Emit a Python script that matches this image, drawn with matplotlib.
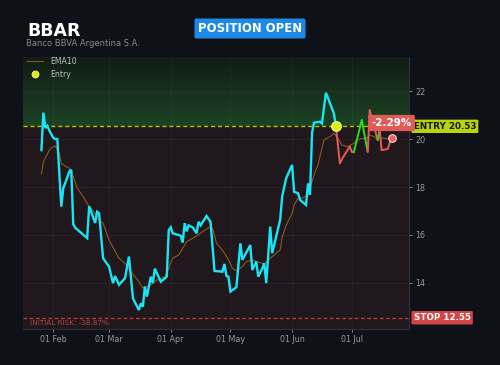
import matplotlib
matplotlib.use("Agg")
import matplotlib.pyplot as plt
import matplotlib.dates as mdates
from matplotlib.colors import to_rgb
from matplotlib.lines import Line2D
import numpy as np
import pandas as pd

# ---------------- data ----------------
ticker = "BBAR"
company = "Banco BBVA Argentina S.A."
status = "POSITION OPEN"
entry_price = 20.53
stop_price = 12.55
pnl_text = "-2.29%"
risk_text = "INITIAL RISK: -38.87%"
year = "2023-"

price_dates = ["01-26", "01-27", "01-28", "01-29", "01-30", "01-31", "02-01", "02-02", "02-03",
               "02-05", "02-06", "02-07", "02-09", "02-10", "02-11", "02-12", "02-18", "02-19",
               "02-22", "02-23", "02-24", "02-26", "03-01", "03-03", "03-04", "03-06", "03-09",
               "03-11", "03-13", "03-16", "03-17", "03-18", "03-19", "03-20", "03-22", "03-23",
               "03-24", "03-27", "03-30", "03-31", "04-01", "04-02", "04-06", "04-07", "04-08",
               "04-09", "04-10", "04-12", "04-14", "04-15", "04-16", "04-19", "04-21", "04-23",
               "04-27", "04-28", "04-29", "04-30", "05-01", "05-04", "05-06", "05-07", "05-11",
               "05-12", "05-14", "05-15", "05-17", "05-18", "05-19", "05-21", "05-22", "05-26",
               "05-27", "05-29", "06-01", "06-02", "06-04", "06-05", "06-08", "06-09", "06-10",
               "06-11", "06-12", "06-15", "06-16", "06-18", "06-22", "06-23"]
price_values = [19.54, 21.10, 20.46, 20.55, 20.35, 20.20, 20.05, 20.00, 20.00,
                17.18, 17.96, 18.17, 18.64, 18.72, 16.45, 16.30, 15.87, 17.20,
                16.50, 16.97, 16.90, 15.03, 14.68, 13.99, 14.29, 13.92, 14.20,
                15.10, 13.36, 12.87, 13.15, 13.01, 13.85, 13.43, 14.26, 14.00,
                14.60, 14.05, 14.26, 16.20, 16.32, 16.07, 15.97, 15.68, 16.49,
                16.15, 16.40, 16.32, 16.07, 16.55, 16.40, 16.79, 16.55, 14.50,
                14.47, 14.79, 14.29, 14.26, 13.64, 13.82, 15.65, 14.96, 15.58,
                14.54, 14.89, 14.26, 14.60, 14.82, 13.99, 16.35, 15.24, 16.63,
                17.60, 18.36, 18.92, 17.80, 17.74, 17.46, 17.25, 18.15, 17.67,
                20.24, 20.68, 20.72, 20.65, 21.93, 21.07, 20.53]

post_dates = ["06-23", "06-25", "06-27", "06-30", "07-01", "07-02", "07-06", "07-09",
              "07-10", "07-14", "07-15", "07-16", "07-19", "07-21"]
post_values = [20.53, 18.99, 19.30, 19.68, 19.47, 19.45, 20.79, 19.47,
               21.20, 19.96, 20.40, 19.54, 19.58, 20.06]
# state of each segment after entry (between consecutive points)
post_state = ["loss", "loss", "loss", "loss", "loss", "gain", "gain", "loss",
              "loss", "gain", "loss", "loss", "loss"]

ema_dates = ["01-26", "01-27", "01-30", "01-31", "02-02", "02-04", "02-05", "02-07", "02-09",
             "02-11", "02-13", "02-16", "02-19", "02-20", "02-22", "02-24", "02-26", "03-01",
             "03-06", "03-09", "03-12", "03-16", "03-18", "03-22", "03-25", "03-29", "03-31",
             "04-01", "04-02", "04-05", "04-07", "04-09", "04-12", "04-14", "04-17", "04-20",
             "04-22", "04-24", "04-27", "04-30", "05-02", "05-04", "05-07", "05-09", "05-12",
             "05-14", "05-17", "05-18", "05-21", "05-26", "05-27", "05-29", "06-01", "06-02",
             "06-04", "06-06", "06-09", "06-12", "06-14", "06-17", "06-20", "06-22", "06-24",
             "06-26", "06-29", "07-02", "07-04", "07-06", "07-08", "07-10", "07-14", "07-16",
             "07-20"]
ema_values = [18.54, 19.05, 19.54, 19.64, 19.71, 19.40, 18.99, 18.87, 18.78,
              18.43, 17.95, 17.60, 17.18, 17.11, 16.90, 16.63, 16.49, 15.79,
              15.03, 14.82, 14.47, 14.05, 13.78, 13.92, 14.12, 14.26, 14.60,
              14.85, 15.03, 15.17, 15.45, 15.72, 15.86, 15.96, 16.14, 16.30,
              16.28, 15.65, 15.37, 14.96, 14.61, 14.51, 14.68, 14.89, 14.96,
              14.89, 14.82, 14.79, 15.03, 15.38, 15.90, 16.40, 16.90, 17.25,
              17.53, 17.53, 17.67, 18.50, 18.92, 19.96, 20.10, 20.24, 20.03,
              19.75, 19.68, 19.82, 19.96, 20.03, 20.00, 20.17, 20.03, 20.05,
              20.00]

x_range = ["2023-01-16 18:00", "2023-07-29 18:00"]
y_range = [12.08, 23.42]
y_ticks = [14, 16, 18, 20, 22]

# ---------------- styles ----------------
BG = "#0e1117"
BELOW = "#21181e"
CYAN = "#19e6f5"
EMA_C = "#8a5a1c"
GAIN = "#22e022"
LOSS = "#e85a55"
ENTRY_C = "#c8e000"
STOP_C = "#d64545"
TXT = "#9a9a9a"

def to_dt(lst):
    return pd.to_datetime([year + s for s in lst])

pd_dates = to_dt(price_dates)
post_dt = to_dt(post_dates)
ema_dt = to_dt(ema_dates)

fig = plt.figure(figsize=(5, 3.65), dpi=100, facecolor=BG)
ax = fig.add_axes([23 / 500, 1 - 329 / 365, (409 - 23) / 500, (329 - 57) / 365])
ax.set_facecolor(BELOW)

x0, x1 = pd.to_datetime(x_range)
ax.set_xlim(x0, x1)
ax.set_ylim(*y_range)

# green gradient zone above entry
n = 64
top_c = np.array(to_rgb("#0f1a15"))
bot_c = np.array(to_rgb("#1d4223"))
t = np.linspace(0, 1, n)[:, None]
grad = (top_c * (1 - t) + bot_c * t)[:, None, :]
xnum0, xnum1 = mdates.date2num(x0), mdates.date2num(x1)
ax.imshow(grad, extent=[xnum0, xnum1, entry_price, y_range[1]], aspect="auto",
          origin="upper", zorder=0, interpolation="bilinear")
for k in np.linspace(entry_price, y_range[1], 30):
    ax.axhline(k, color="#2a5a2a", lw=0.3, alpha=0.25, zorder=0.5)
ax.set_xlim(x0, x1)
ax.set_ylim(*y_range)

# grid
ax.grid(True, color="#ffffff", alpha=0.045, lw=0.6)
ax.set_axisbelow(True)

# lines
ax.plot(ema_dt, ema_values, color=EMA_C, lw=0.8, zorder=2)
ax.plot(pd_dates, price_values, color=CYAN, lw=1.7, zorder=3, solid_joinstyle="miter")
state_color = {"gain": GAIN, "loss": LOSS}
for i, st in enumerate(post_state):
    ax.plot(post_dt[i:i + 2], post_values[i:i + 2], color=state_color[st], lw=1.4, zorder=3,
            solid_capstyle="round")

ax.axhline(entry_price, color=ENTRY_C, lw=1.0, ls=(0, (3, 2)), zorder=2.5, alpha=0.85)
ax.axhline(stop_price, color=STOP_C, lw=0.9, ls=(0, (3, 2)), zorder=2.5, alpha=0.85)

ax.plot(post_dt[0], entry_price, "o", ms=7, mfc="#dcf000", mec="#f0f0c0", mew=0.8, zorder=5)
ax.plot(post_dt[-1], post_values[-1], "o", ms=5.5, mfc="#e86060", mec="#f4d0d0", mew=0.8, zorder=5)

ax.annotate(pnl_text, xy=(post_dt[-1], post_values[-1]), xytext=(0, 10.5),
            textcoords="offset points", ha="center", va="center", fontsize=7.5,
            fontweight="bold", color="white", zorder=6,
            bbox=dict(boxstyle="round,pad=0.3,rounding_size=0.15", fc="#e05a58", ec="none"))

ax.annotate(f"ENTRY {entry_price:.2f}", xy=(1.012, entry_price), xycoords=("axes fraction", "data"),
            ha="left", va="center", fontsize=6.3, fontweight="bold", color="#15170a",
            bbox=dict(boxstyle="round,pad=0.25,rounding_size=0.12", fc="#b8d40e", ec="none"),
            annotation_clip=False)
ax.annotate(f"STOP {stop_price:.2f}", xy=(1.012, stop_price), xycoords=("axes fraction", "data"),
            ha="left", va="center", fontsize=6.3, fontweight="bold", color="white",
            bbox=dict(boxstyle="round,pad=0.25,rounding_size=0.12", fc=STOP_C, ec="none"),
            annotation_clip=False)
ax.text(0.018, stop_price - 0.22, risk_text, transform=ax.get_yaxis_transform(),
        fontsize=5.2, color="#b04545", va="center", ha="left")

# axes styling
ax.yaxis.tick_right()
ax.set_yticks(y_ticks)
ax.xaxis.set_major_locator(mdates.MonthLocator())
ax.xaxis.set_major_formatter(mdates.DateFormatter("%d %b"))
ax.tick_params(colors=TXT, labelsize=5.8, length=2.5, width=0.6, pad=2)
for s in ["top", "left"]:
    ax.spines[s].set_visible(False)
for s in ["right", "bottom"]:
    ax.spines[s].set_color("#2e3138")
    ax.spines[s].set_linewidth(0.8)

# legend
handles = [Line2D([], [], color=EMA_C, lw=0.8),
           Line2D([], [], marker="o", ls="none", ms=5, mfc="#dcf000", mec="#f0f0c0", mew=0.6)]
fig.legend(handles, ["EMA10", "Entry"], loc="upper left", bbox_to_anchor=(24 / 500, 1 - 54 / 365),
           frameon=False, fontsize=5.6, labelcolor="#c0c0c0", handlelength=2.0,
           handletextpad=1.0, borderaxespad=0, labelspacing=0.5)

# header
fig.text(27 / 500, 1 - 31 / 365, ticker, fontsize=12.5, fontweight="bold", color="white",
         va="center", ha="left")
fig.text(26 / 500, 1 - 43 / 365, company, fontsize=6, color="#8a8a8a", va="center", ha="left")
fig.text(250 / 500, 1 - 28.5 / 365, status, fontsize=8.4, fontweight="bold", color="white",
         va="center", ha="center",
         bbox=dict(boxstyle="round,pad=0.3,rounding_size=0.15", fc="#1e88e5", ec="none"))

fig.savefig("out.png", dpi=100, facecolor=BG)
